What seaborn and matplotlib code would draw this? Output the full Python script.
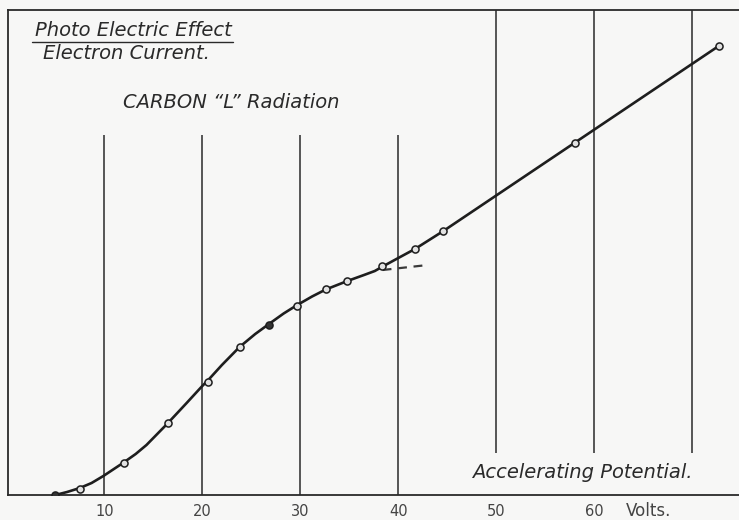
import matplotlib
matplotlib.use("Agg")
import matplotlib.pyplot as plt
import seaborn as sns
import numpy as np
import pandas as pd

# ---- data (y in arbitrary current units) ----
point_volts = [5.0, 7.5, 12.0, 16.5, 20.6, 23.8, 26.8, 29.7, 32.6, 34.8, 38.3, 41.7, 44.6, 58.0, 72.7]
point_current = [0.0, 0.6, 3.2, 7.2, 11.3, 14.8, 17.0, 18.9, 20.6, 21.4, 22.9, 24.6, 26.4, 35.2, 44.9]
point_filled = [True, False, False, False, False, False, True, False, False, False, False, False, False, False, False]

curve_volts = [5.0, 6.2, 7.5, 8.7, 9.9, 11.9, 13.2, 14.3, 16.4, 18.4, 19.9, 20.7, 22.0, 23.8, 25.4,
               26.8, 28.3, 29.6, 31.2, 32.6, 34.8, 36.5, 37.6, 38.5, 40.0, 41.7, 44.6, 72.7]
curve_current = [0.0, 0.3, 0.7, 1.2, 1.9, 3.2, 4.1, 5.0, 7.1, 9.2, 10.8, 11.6, 13.0, 14.8, 16.1,
                 17.1, 18.15, 18.95, 19.85, 20.55, 21.4, 22.0, 22.4, 22.9, 23.7, 24.6, 26.4, 44.9]

dash_volts = [38.4, 43.0]
dash_current = [22.5, 23.0]

grid_low = [10, 20, 30, 40]      # lines drawn from the axis up
grid_high = [50, 60, 70]         # lines drawn from the top down
tick_values = [10, 20, 30, 40, 50, 60, 70]
tick_labels = ["10", "20", "30", "40", "50", "60", ""]

title_top = "Photo Electric Effect"
title_bottom = "Electron Current."
subtitle = "CARBON \u201cL\u201d Radiation"
xlabel_text = "Accelerating Potential."
unit_text = "Volts."

# ---- figure ----
sns.set_theme(style="white")
plt.rcParams['font.family'] = ['DejaVu Sans']
paper = "#f7f7f6"
ink = "#1e1e1e"

fig = plt.figure(figsize=(7.39, 5.20), dpi=100, facecolor=paper)
ax = fig.add_axes([8/739, 25/520, 1 - 8/739, 485/520])
ax.set_facecolor(paper)
ax.set_xlim(0.17, 74.77)
ax.set_ylim(0, 48.5)

for s in ["left", "bottom", "top"]:
    ax.spines[s].set_visible(True)
    ax.spines[s].set_color("#2a2a2a")
    ax.spines[s].set_linewidth(1.3)
ax.spines["right"].set_visible(False)

# vertical rulings
ax.vlines(grid_low, 0, 36.0, color="#2a2a2a", lw=1.1)
ax.vlines(grid_high, 4.2, 48.5, color="#2a2a2a", lw=1.1)

# curve
curve_df = pd.DataFrame({"V": curve_volts, "I": curve_current})
sns.lineplot(data=curve_df, x="V", y="I", sort=False, estimator=None, ax=ax,
             color=ink, lw=1.9, zorder=3)
dash_df = pd.DataFrame({"V": dash_volts, "I": dash_current})
sns.lineplot(data=dash_df, x="V", y="I", sort=False, estimator=None, ax=ax,
             color="#3a3a3a", lw=1.6, ls=(0, (4, 3)), zorder=3)

pts = pd.DataFrame({"V": point_volts, "I": point_current, "filled": point_filled})
sns.scatterplot(data=pts[~pts.filled], x="V", y="I", ax=ax, s=26, marker="o",
                facecolor="#e2e2e2", edgecolor=ink, linewidth=1.1, zorder=4)
sns.scatterplot(data=pts[pts.filled], x="V", y="I", ax=ax, s=26, marker="o",
                facecolor="#333333", edgecolor=ink, linewidth=1.1, zorder=4)

# ticks
ax.set_xticks(tick_values)
ax.set_xticklabels(tick_labels, fontsize=10.5, color="#444444")
ax.tick_params(axis="x", direction="inout", length=5, width=1.1, color="#2a2a2a", pad=4)
ax.set_yticks([])
ax.set_xlabel("")
ax.set_ylabel("")

# texts
tstyle = dict(style="italic", color="#2a2a2a", fontsize=14, va="center", ha="left")
ax.text(2.93, 46.4, title_top, **tstyle)
ax.plot([2.6, 23.1], [45.3, 45.3], color="#2a2a2a", lw=1.0, clip_on=False)
ax.text(3.75, 44.1, title_bottom, **tstyle)
ax.text(11.9, 39.2, subtitle, **tstyle)
ax.text(47.5, 2.3, xlabel_text, **tstyle)
ax.text(65.5, -1.6, unit_text, color="#444444", fontsize=12, ha="center", va="center")

fig.savefig("out.png", dpi=100, facecolor=paper)
